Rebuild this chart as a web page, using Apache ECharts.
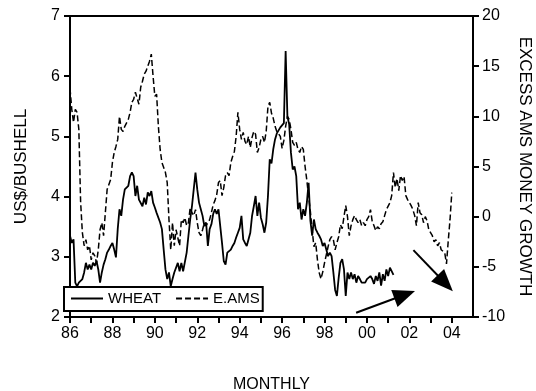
<!DOCTYPE html>
<html>
<head>
<meta charset="utf-8">
<script src="https://cdn.jsdelivr.net/npm/echarts@6/dist/echarts.min.js"></script>
<style>
  html, body { margin: 0; padding: 0; background: #fff; }
  #chart { width: 536px; height: 391px; }
</style>
</head>
<body>
<div id="chart"></div>
<script>
// monthly series, first value = 1986M01
const startYear = 1986
const wheat = [
  3.35, 3.23, 3.29, 2.57, 2.51, 2.57, 2.60, 2.63, 2.74, 2.90,
  2.79, 2.87, 2.79, 2.90, 2.85, 2.93, 2.79, 2.57, 2.74, 2.87,
  2.96, 3.07, 3.12, 3.18, 3.23, 3.12, 2.99, 3.46, 3.79, 3.68,
  3.95, 4.12, 4.15, 4.18, 4.34, 4.40, 4.34, 4.01, 4.18, 3.95,
  3.98, 3.84, 3.98, 3.87, 4.07, 4.01, 4.09, 3.90, 3.82, 3.73,
  3.73, 3.57, 3.46, 3.12, 2.79, 2.63, 2.74, 2.51, 2.63, 2.74,
  2.71, 2.90, 2.76, 2.90, 2.76, 2.74, 3.07, 3.35, 3.62, 3.84,
  4.12, 4.40, 4.12, 3.90, 3.79, 3.68, 3.51, 3.57, 3.18, 3.46,
  3.54, 3.71, 3.79, 3.71, 3.79, 3.51, 3.23, 2.93, 2.87, 3.07,
  3.10, 3.12, 3.18, 3.23, 3.32, 3.40, 3.48, 3.68, 3.29, 3.23,
  3.18, 3.18, 3.40, 3.68, 3.84, 4.01, 3.68, 3.90, 3.65, 3.54,
  3.40, 3.57, 4.01, 4.62, 4.55, 4.79, 4.95, 5.05, 5.10, 5.15,
  5.18, 5.22, 6.42, 5.33, 5.20, 4.73, 4.45, 4.50, 4.34, 3.79,
  3.90, 3.62, 3.79, 3.68, 3.90, 4.23, 3.60, 3.35, 3.62, 3.46,
  3.40, 3.35, 3.29, 3.18, 3.23, 3.12, 3.01, 3.07, 3.01, 2.74,
  2.45, 2.35, 2.65, 2.90, 2.96, 2.79, 2.35, 2.74, 2.63, 2.74,
  2.63, 2.71, 2.57, 2.68, 2.63, 2.57, 2.55, 2.57, 2.63, 2.60,
  2.68, 2.63, 2.55, 2.68, 2.60, 2.74, 2.52, 2.71, 2.60, 2.79,
  2.68, 2.82, 2.85, 2.70
]
const eams = [
  12.8, 10.7, 9.4, 10.7, 10.4, 8.7, 1.5, -1.6, -2.9, -2.3,
  -3.3, -2.9, -4.3, -3.6, -3.9, -4.6, -3.3, -1.3, -0.6, -1.9,
  0.4, 2.7, 3.2, 3.7, 5.4, 6.4, 7.0, 7.7, 10.0, 8.7,
  8.5, 9.0, 9.0, 9.7, 10.4, 11.4, 11.7, 12.4, 12.5, 11.2,
  12.9, 13.5, 14.2, 14.5, 15.0, 15.5, 16.2, 14.0, 12.0, 12.2,
  9.0, 6.7, 5.4, 4.9, 4.4, 3.4, -0.3, -3.3, -0.6, -2.9,
  -1.3, -2.1, -2.9, -0.3, -0.6, -0.1, -0.9, -0.6, 0.9, 0.4,
  0.1, 0.7, -0.6, -1.6, -1.9, -1.3, -0.6, -0.9, -0.6, -0.3,
  0.4, 1.2, 1.6, 2.2, 3.4, 3.6, 2.1, 2.9, 4.1, 4.4,
  4.1, 5.4, 6.0, 6.5, 8.0, 10.4, 8.7, 7.7, 8.4, 7.5,
  7.2, 8.0, 6.9, 7.9, 8.5, 8.2, 6.4, 6.9, 7.7, 8.0,
  7.4, 8.5, 11.0, 11.4, 10.3, 9.8, 9.0, 8.5, 8.6, 8.0,
  6.8, 7.6, 9.0, 10.0, 9.7, 8.7, 7.4, 7.1, 7.4, 6.7,
  6.4, 7.0, 6.7, 5.0, 3.6, 2.0, 0.5, -1.3, -3.0, -2.6,
  -4.3, -5.6, -6.2, -5.5, -4.6, -3.8, -3.0, -2.3, -2.0, -2.3,
  -3.3, -2.6, -2.0, -0.8, -1.2, 0.0, 1.1, 0.0, -1.9, -0.9,
  -0.3, 0.1, -0.3, -0.6, -0.3, -0.9, -0.6, -0.9, -0.3, 0.0,
  0.7, -0.5, -0.9, -1.4, -1.0, -1.2, -0.7, -0.5, 0.1, 0.7,
  0.6, 1.4, 2.1, 4.4, 2.9, 3.8, 2.6, 4.1, 3.6, 4.0,
  2.1, 1.7, 1.4, 1.1, 0.7, 0.1, -0.9, 1.4, 0.4, 0.2,
  -0.6, 0.0, -0.4, -1.3, -1.4, -1.9, -2.5, -2.3, -2.9, -2.6,
  -3.3, -3.3, -3.6, -4.7, -2.4, -0.3, 2.4
]
const yearTicks = [1986, 1987, 1988, 1989, 1990, 1991, 1992, 1993, 1994, 1995,
  1996, 1997, 1998, 1999, 2000, 2001, 2002, 2003, 2004]
const yearLabels = [1986, 1988, 1990, 1992, 1994, 1996, 1998, 2000, 2002, 2004]
// arrow annotations, [year, US$/bushell] from -> to (head is centred on "to")
const arrows = [
  [[1999.49, 2.07], [2001.78, 2.37]],
  [[2002.19, 3.11], [2003.69, 2.56]]
]

const font = "'Liberation Sans', Arial, sans-serif"

function toPairs (values) {
  return values.map((v, i) => [startYear + i / 12, v])
}

function axisBase () {
  return {
    axisLine: { show: true, onZero: false, lineStyle: { color: '#000', width: 2 } },
    axisTick: { show: true, length: 6, lineStyle: { color: '#000', width: 2 } },
    splitLine: { show: false },
    nameTextStyle: { color: '#000', fontFamily: font, fontSize: 17 }
  }
}

function getOption () {
  return {
    animation: false,
    backgroundColor: '#fff',
    grid: {
      left: 70,
      right: 63,
      top: 16,
      bottom: 74,
      outerBoundsMode: 'none',
      show: true,
      borderColor: '#000',
      borderWidth: 2
    },
    legend: {
      left: 64,
      top: 287,
      padding: [4, 3, 5, 6],
      backgroundColor: '#fff',
      borderColor: '#000',
      borderWidth: 2,
      itemWidth: 32,
      itemHeight: 14,
      itemGap: 14,
      itemStyle: { opacity: 0 },
      textStyle: { color: '#000', fontFamily: font, fontSize: 15 },
      data: ['WHEAT', 'E.AMS']
    },
    xAxis: Object.assign(axisBase(), {
      type: 'value',
      min: 1986,
      max: 2005,
      name: 'MONTHLY',
      nameLocation: 'middle',
      nameGap: 60,
      nameTextStyle: { color: '#000', fontFamily: font, fontSize: 16 },
      axisTick: { show: true, length: 6, customValues: yearTicks, lineStyle: { color: '#000', width: 2 } },
      axisLabel: {
        customValues: yearLabels,
        margin: 9,
        color: '#000',
        fontFamily: font,
        fontSize: 16,
        formatter: v => String(v).slice(2)
      }
    }),
    yAxis: [
      Object.assign(axisBase(), {
        type: 'value',
        position: 'left',
        min: 2,
        max: 7,
        interval: 1,
        name: 'US$/BUSHELL',
        nameLocation: 'middle',
        nameRotate: 90,
        nameGap: 40,
        axisLabel: { margin: 10, color: '#000', fontFamily: font, fontSize: 16 }
      }),
      Object.assign(axisBase(), {
        type: 'value',
        position: 'right',
        min: -10,
        max: 20,
        interval: 5,
        name: 'EXCESS AMS MONEY GROWTH',
        nameLocation: 'middle',
        nameRotate: -90,
        nameGap: 37,
        axisLabel: { margin: 9, color: '#000', fontFamily: font, fontSize: 16 }
      })
    ],
    series: [
      {
        name: 'WHEAT',
        type: 'line',
        yAxisIndex: 0,
        data: toPairs(wheat),
        showSymbol: false,
        symbol: 'none',
        lineStyle: { color: '#000', width: 1.8 },
        itemStyle: { color: '#000' },
        z: 3,
        markLine: {
          silent: true,
          symbol: ['none', 'triangle'],
          symbolSize: [18, 22],
          label: { show: false },
          lineStyle: { color: '#000', width: 2, type: 'solid' },
          emphasis: { disabled: true },
          data: arrows.map(a => [{ coord: a[0] }, { coord: a[1] }])
        }
      },
      {
        name: 'E.AMS',
        type: 'line',
        yAxisIndex: 1,
        data: toPairs(eams),
        showSymbol: false,
        symbol: 'none',
        lineStyle: { color: '#000', width: 1.5, type: [6, 3] },
        itemStyle: { color: '#000' },
        z: 2
      }
    ]
  }
}

const instance = echarts.init(document.getElementById('chart'), null, { renderer: 'canvas' })
instance.setOption(getOption())
</script>
</body>
</html>
